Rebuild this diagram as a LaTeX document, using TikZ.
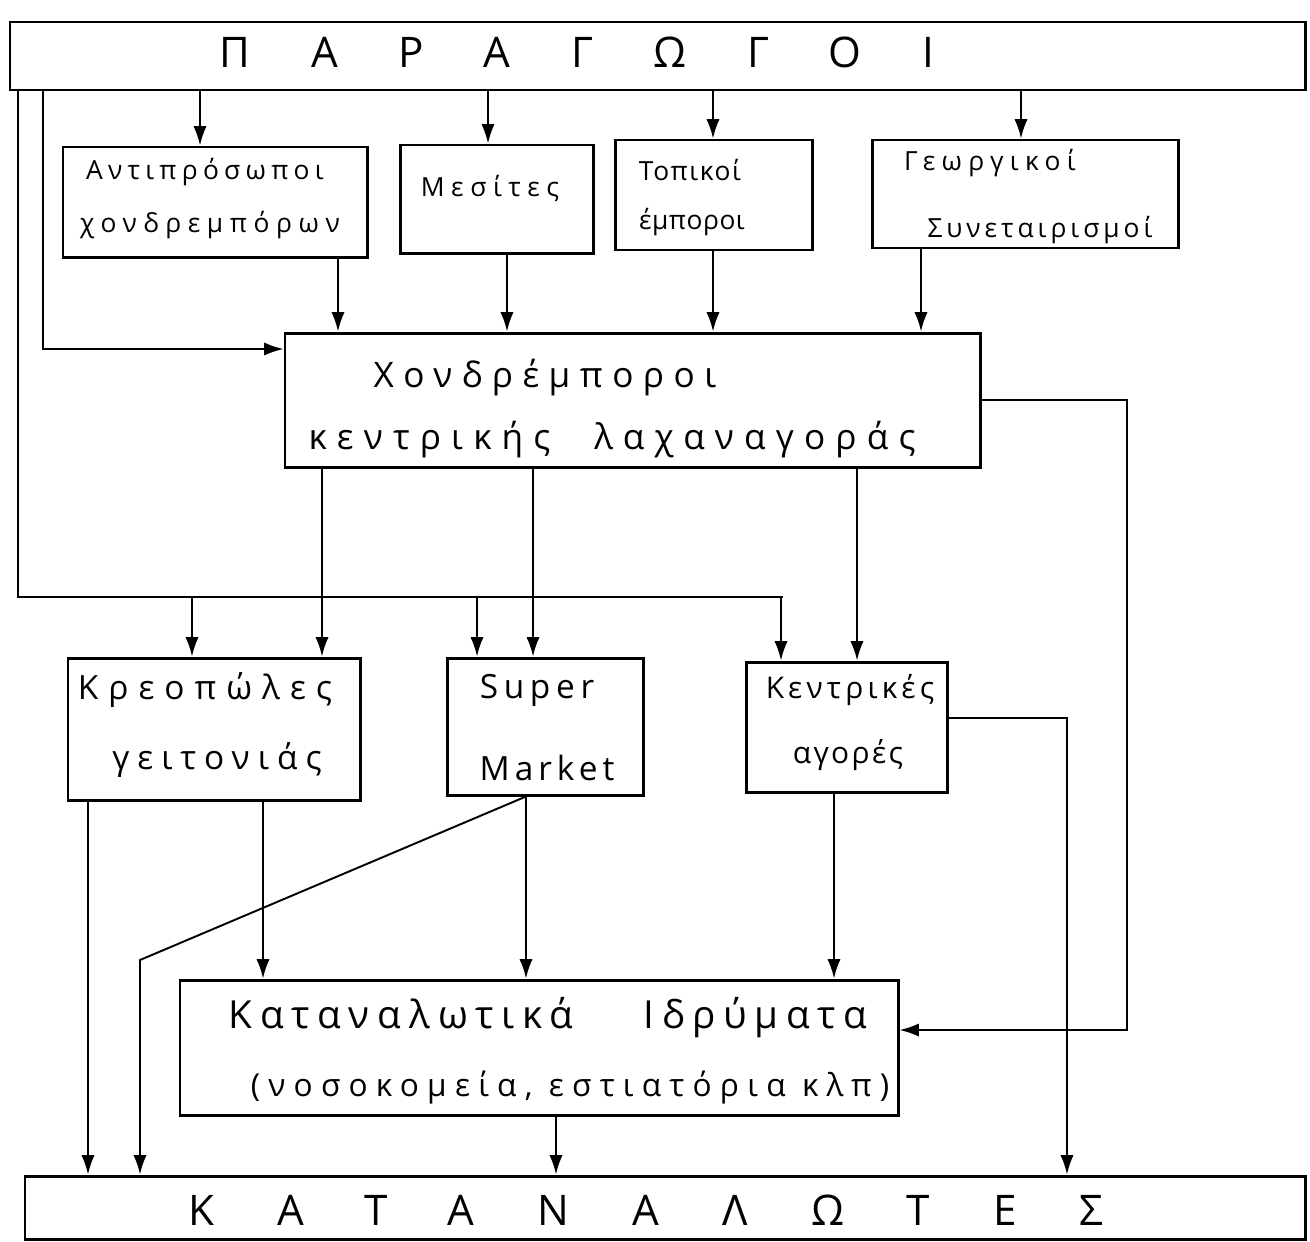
\documentclass[tikz,border=0pt]{standalone}
\usepackage{fontspec}
\setmainfont{Open Sans}
\usetikzlibrary{arrows.meta,fit}
\begin{document}
\begin{tikzpicture}[x=0.02cm,y=-0.02cm,
  box/.style={draw, line width=1.7pt, inner sep=0pt},
  conn/.style={line width=1.1pt},
  arr/.style={conn, -{Latex[length=11pt,width=7.5pt]}},
  hw/.style 2 args={font=\fontsize{#1}{#1}\selectfont\addfontfeature{LetterSpace=#2}, inner sep=0pt},
]
\useasboundingbox (0,0) rectangle (1310,1241);
\fill[white] (0,0) rectangle (1310,1241);

% boxes
\node[box, fit={(10,22) (1305,90)}] (prod) {};
\node[box, fit={(63,147) (367,257)}] (rep) {};
\node[box, fit={(400,145) (593,253)}] (mes) {};
\node[box, fit={(615,140) (812,250)}] (tok) {};
\node[box, fit={(872,140) (1178,248)}] (syn) {};
\node[box, fit={(285,333) (980,467)}] (whole) {};
\node[box, fit={(68,658) (360,800)}] (kreo) {};
\node[box, fit={(447,658) (643,795)}] (sm) {};
\node[box, fit={(746,662) (947,792)}] (kent) {};
\node[box, fit={(180,980) (898,1115)}] (inst) {};
\node[box, fit={(25,1176) (1305,1239)}] (cons) {};

% texts
\node[hw={24}{145}] (tprod) at (577,52) {ΠΑΡΑΓΩΓΟΙ};
\node[hw={15}{20}] (trep1) at (205,172) {Αντιπρόσωποι};
\node[hw={15}{25}] (trep2) at (210,225) {χονδρεμπόρων};
\node[hw={15}{25}] (tmes) at (490,188) {Μεσίτες};
\node[hw={15}{6}] (ttok1) at (690,170) {Τοπικοί};
\node[hw={15}{2}] (ttok2) at (692,222) {έμποροι};
\node[hw={15}{24}] (tsyn1) at (990,163) {Γεωργικοί};
\node[hw={15}{15}] (tsyn2) at (1040,230) {Συνεταιρισμοί};
\node[hw={20}{27}] (twh1) at (545,378) {Χονδρέμποροι};
\node[hw={20}{29}] (twh2) at (612,440) {κεντρικής\hspace{14pt} λαχαναγοράς};
\node[hw={19}{30}] (tkr1) at (205,690) {Κρεοπώλες};
\node[hw={19}{24}] (tkr2) at (217,760) {γειτονιάς};
\node[hw={19}{17}] (tsm1) at (537,690) {Super};
\node[hw={19}{15}] (tsm2) at (547,768) {Market};
\node[hw={17}{14}] (tke1) at (850,690) {Κεντρικές};
\node[hw={17}{8}] (tke2) at (848,755) {αγορές};
\node[hw={22}{20}] (tin1) at (548,1018) {Καταναλωτικά\hspace{30pt} Ιδρύματα};
\node[hw={18}{26}] (tin2) at (570,1088) {(νοσοκομεία, εστιατόρια κλπ)};
\node[hw={24}{150}] (tcons) at (646,1210) {ΚΑΤΑΝΑΛΩΤΕΣ};

% producers to first row
\draw[arr] (200,0 |- prod.south) -- (200,0 |- rep.north);
\draw[arr] (488,0 |- prod.south) -- (488,0 |- mes.north);
\draw[arr] (713,0 |- prod.south) -- (713,0 |- tok.north);
\draw[arr] (1021,0 |- prod.south) -- (1021,0 |- syn.north);
% first row to wholesalers
\draw[arr] (338,0 |- rep.south) -- (338,0 |- whole.north);
\draw[arr] (507,0 |- mes.south) -- (507,0 |- whole.north);
\draw[arr] (713,0 |- tok.south) -- (713,0 |- whole.north);
\draw[arr] (921,0 |- syn.south) -- (921,0 |- whole.north);
% producers directly to wholesalers
\draw[arr] (43,0 |- prod.south) |- (whole.west |- 0,349);
% producers bus to retail
\draw[conn] (18,0 |- prod.south) -- (18,597) coordinate (busl) -- (783,597) coordinate (busr);
\coordinate (d1) at (192,597);
\coordinate (d2) at (477,597);
\coordinate (d3) at (781,597);
\draw[arr] (d1) -- (d1 |- kreo.north);
\draw[arr] (d2) -- (d2 |- sm.north);
\draw[arr] (d3) -- (d3 |- kent.north);
% wholesalers to retail
\draw[arr] (322,0 |- whole.south) -- (322,0 |- kreo.north);
\draw[arr] (533,0 |- whole.south) -- (533,0 |- sm.north);
\draw[arr] (857,0 |- whole.south) -- (857,0 |- kent.north);
% wholesalers to institutions
\draw[arr] (whole.east |- 0,400) -- (1127,400) -- (1127,1030) -- (inst.east |- 0,1030);
% central markets to consumers
\draw[arr] (kent.east |- 0,718) -| (1067,0 |- cons.north);
% retail to institutions / consumers
\draw[arr] (88,0 |- kreo.south) -- (88,0 |- cons.north);
\draw[arr] (263,0 |- kreo.south) -- (263,0 |- inst.north);
\draw[arr] (526,0 |- sm.south) -- (526,0 |- inst.north);
\draw[arr] (526,0 |- sm.south) -- (140,960) -- (140,0 |- cons.north);
\draw[arr] (834,0 |- kent.south) -- (834,0 |- inst.north);
\draw[arr] (556,0 |- inst.south) -- (556,0 |- cons.north);
\end{tikzpicture}
\end{document}
